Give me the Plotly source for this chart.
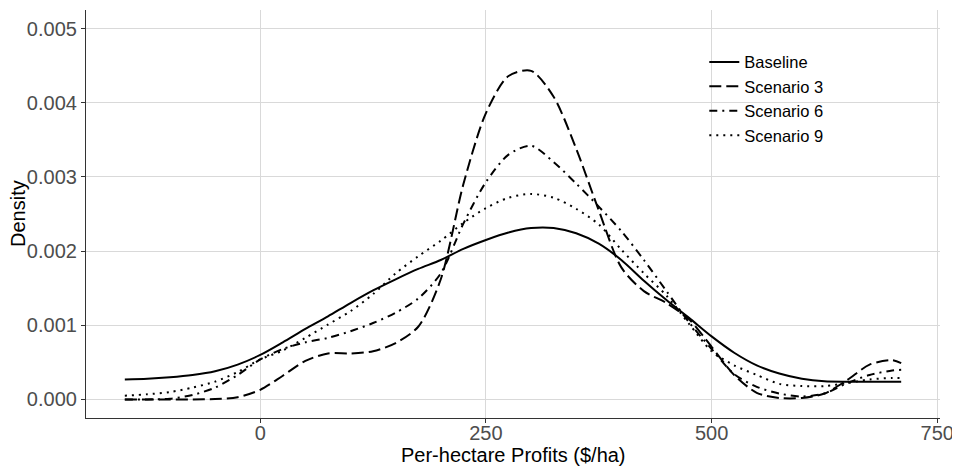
import plotly.graph_objects as go

x_vals = [-150, -125, -100, -75, -50, -25, 0, 25, 50, 75, 100, 125, 150, 175, 200,
          225, 250, 275, 300, 325, 350, 375, 400, 425, 450, 475, 500, 525, 550,
          575, 600, 625, 650, 675, 700, 710]

# density values in units of 0.001
baseline = [0.27, 0.28, 0.30, 0.33, 0.38, 0.47, 0.60, 0.77, 0.95, 1.12, 1.30, 1.47, 1.62,
            1.76, 1.88, 2.03, 2.15, 2.25, 2.31, 2.31, 2.24, 2.10, 1.88, 1.60, 1.34, 1.10,
            0.85, 0.63, 0.46, 0.35, 0.28, 0.245, 0.24, 0.24, 0.24, 0.24]
scenario3 = [0.0, 0.0, 0.0, 0.0, 0.005, 0.03, 0.13, 0.32, 0.52, 0.62, 0.62, 0.65, 0.76,
             0.98, 1.62, 2.90, 3.86, 4.36, 4.43, 4.08, 3.38, 2.55, 1.78, 1.46, 1.30, 1.08,
             0.71, 0.33, 0.09, 0.02, 0.02, 0.08, 0.26, 0.47, 0.53, 0.49]
scenario6 = [0.0, 0.0, 0.01, 0.06, 0.16, 0.33, 0.54, 0.68, 0.77, 0.83, 0.92, 1.03, 1.17,
             1.36, 1.70, 2.37, 2.93, 3.30, 3.42, 3.20, 2.91, 2.60, 2.27, 1.88, 1.46, 1.04,
             0.68, 0.34, 0.17, 0.08, 0.04, 0.08, 0.22, 0.33, 0.39, 0.40]
scenario9 = [0.05, 0.07, 0.10, 0.16, 0.24, 0.37, 0.54, 0.66, 0.83, 1.01, 1.19, 1.42, 1.70,
             1.93, 2.14, 2.38, 2.58, 2.72, 2.77, 2.72, 2.57, 2.36, 2.02, 1.70, 1.40, 1.02,
             0.65, 0.46, 0.33, 0.21, 0.18, 0.18, 0.22, 0.27, 0.29, 0.29]

series_names = ["Baseline", "Scenario 3", "Scenario 6", "Scenario 9"]
series_vals = [baseline, scenario3, scenario6, scenario9]
dashes = ["solid", "12px,5px", "8px,5px,2px,5px", "2px,5px"]

x_ticks = [0, 250, 500, 750]
y_ticks = [0.000, 0.001, 0.002, 0.003, 0.004, 0.005]
x_title = "Per-hectare Profits ($/ha)"
y_title = "Density"

fig = go.Figure()
for name, vals, dash in zip(series_names, series_vals, dashes):
    fig.add_trace(go.Scatter(
        x=x_vals, y=[v / 1000 for v in vals], name=name, mode="lines",
        line=dict(color="black", width=2, dash=dash, shape="spline", smoothing=0.8),
    ))

font_family = "Liberation Sans, Arial, sans-serif"
# page body has an 8px margin; figure is sized so the plot area lands where the reference has it
fig.update_layout(
    width=952, height=458,
    margin=dict(l=78, r=20, t=2, b=48),
    paper_bgcolor="white", plot_bgcolor="white",
    font=dict(family=font_family, color="black"),
    showlegend=True,
    legend=dict(x=0.724, y=0.915, xanchor="left", yanchor="top",
                bgcolor="rgba(0,0,0,0)", font=dict(size=16.5, color="black"),
                tracegroupgap=0, itemwidth=30),
    annotations=[
        dict(text=x_title, xref="paper", yref="paper", x=0.5, y=0,
             xanchor="center", yanchor="middle", yshift=-37, showarrow=False,
             font=dict(size=20, color="black")),
        dict(text=y_title, xref="paper", yref="paper", x=0, y=0.5,
             xanchor="center", yanchor="middle", xshift=-68, textangle=-90,
             showarrow=False, font=dict(size=20, color="black")),
    ],
)
fig.update_xaxes(
    range=[-193, 753], tickvals=x_ticks, ticktext=[str(t) for t in x_ticks],
    showgrid=True, gridcolor="#d9d9d9", gridwidth=1, zeroline=False,
    showline=True, linecolor="#333333", linewidth=1.2,
    ticks="outside", ticklen=4, tickcolor="#333333",
    tickfont=dict(size=20, color="#4d4d4d"), ticklabelstandoff=-7,
    automargin=False,
)
fig.update_yaxes(
    range=[-0.00025, 0.00525], tickvals=y_ticks, tickformat=".3f",
    showgrid=True, gridcolor="#d9d9d9", gridwidth=1, zeroline=False,
    showline=True, linecolor="#333333", linewidth=1.2,
    ticks="outside", ticklen=4, tickcolor="#333333",
    tickfont=dict(size=20, color="#4d4d4d"),
    automargin=False,
)
fig.write_html("out.html")
